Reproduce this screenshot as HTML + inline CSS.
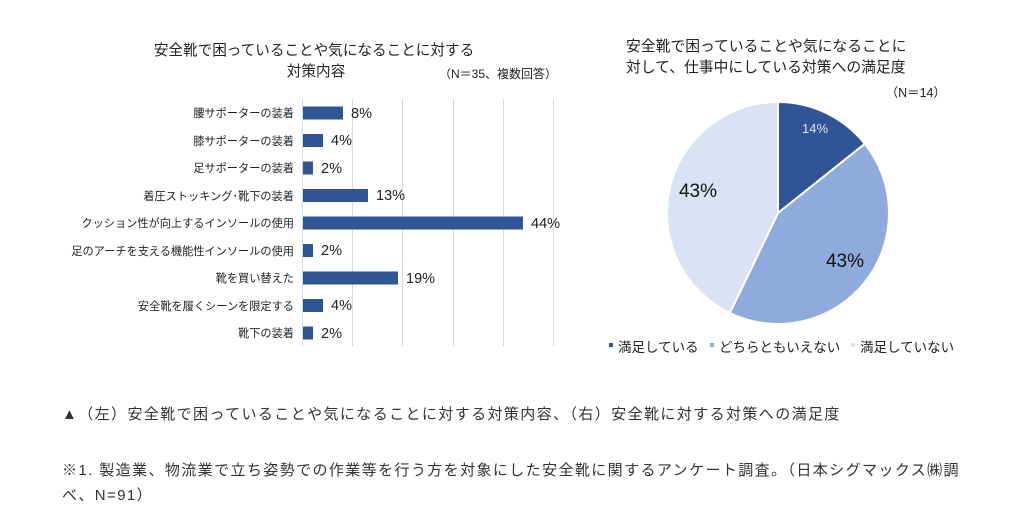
<!DOCTYPE html>
<html><head><meta charset="utf-8"><style>
body{margin:0;background:#fff;width:1024px;height:524px;overflow:hidden;font-family:"Liberation Sans","Noto Sans CJK JP",sans-serif;color:#333}
.t{position:absolute;white-space:nowrap;font-size:15px;letter-spacing:1.4px}
</style></head><body>
<svg width="1024" height="524" style="position:absolute;left:0;top:0" font-family="Liberation Sans, Noto Sans CJK JP, sans-serif">
<text x="314" y="55" font-size="14.6" text-anchor="middle" fill="#222">安全靴で困っていることや気になることに対する</text>
<text x="316" y="76" font-size="14.6" text-anchor="middle" fill="#222">対策内容</text>
<text x="557" y="78" font-size="12" text-anchor="end" fill="#222">（N＝35、複数回答）</text>
<g stroke="#d9d9d9" stroke-width="1">
<line x1="352.5" y1="99" x2="352.5" y2="346"/><line x1="402.5" y1="99" x2="402.5" y2="346"/><line x1="453.5" y1="99" x2="453.5" y2="346"/><line x1="503.5" y1="99" x2="503.5" y2="346"/><line x1="553.5" y1="99" x2="553.5" y2="346"/>
<line x1="302.5" y1="99" x2="302.5" y2="346"/></g>
<g fill="#2f5597">
<rect x="303" y="106.5" width="40" height="13"/>
<rect x="303" y="134" width="20" height="13"/>
<rect x="303" y="161.5" width="10" height="13"/>
<rect x="303" y="189" width="65" height="13"/>
<rect x="303" y="216.5" width="220" height="13"/>
<rect x="303" y="244" width="10" height="13"/>
<rect x="303" y="271.5" width="95" height="13"/>
<rect x="303" y="299" width="20" height="13"/>
<rect x="303" y="326.5" width="10" height="13"/>
</g>
<g font-size="11.2" text-anchor="end" fill="#222">
<text x="294" y="117">腰サポーターの装着</text>
<text x="294" y="145">膝サポーターの装着</text>
<text x="294" y="172">足サポーターの装着</text>
<text x="294" y="200">着圧ストッキング･靴下の装着</text>
<text x="294" y="227">クッション性が向上するインソールの使用</text>
<text x="294" y="255">足のアーチを支える機能性インソールの使用</text>
<text x="294" y="282">靴を買い替えた</text>
<text x="294" y="310">安全靴を履くシーンを限定する</text>
<text x="294" y="337">靴下の装着</text>
</g>
<g font-size="14.5" fill="#222">
<text x="351" y="118">8%</text>
<text x="331" y="145">4%</text>
<text x="321" y="173">2%</text>
<text x="376" y="200">13%</text>
<text x="531" y="228">44%</text>
<text x="321" y="255">2%</text>
<text x="406" y="283">19%</text>
<text x="331" y="310">4%</text>
<text x="321" y="338">2%</text>
</g>
<text x="626" y="51" font-size="14.8" fill="#222">安全靴で困っていることや気になることに</text>
<text x="626" y="72" font-size="14.8" fill="#222">対して、仕事中にしている対策への満足度</text>
<text x="946" y="97" font-size="12.5" text-anchor="end" fill="#222">（N＝14）</text>
<g stroke="#fff" stroke-width="2">
<path d="M778,213 L778,102 A111,111 0 0 1 864.8,143.8 Z" fill="#2f5597"/>
<path d="M778,213 L864.8,143.8 A111,111 0 0 1 729.8,313 Z" fill="#8faadc"/>
<path d="M778,213 L729.8,313 A111,111 0 0 1 778,102 Z" fill="#dae3f3"/>
</g>
<text x="815" y="133" font-size="13" text-anchor="middle" fill="#dae3f3">14%</text>
<text x="845" y="267" font-size="19" text-anchor="middle" fill="#111">43%</text>
<text x="698" y="197" font-size="19" text-anchor="middle" fill="#111">43%</text>
<rect x="609" y="343" width="4" height="4" fill="#2f5597"/>
<text x="618" y="352" font-size="13.5" fill="#222">満足している</text>
<rect x="710" y="343" width="4" height="4" fill="#8faadc"/>
<text x="719" y="352" font-size="13.5" fill="#222">どちらともいえない</text>
<rect x="851" y="343" width="4" height="4" fill="#dae3f3"/>
<text x="860" y="352" font-size="13.5" fill="#222">満足していない</text>
</svg>
<div class="t" style="left:62px;top:403px">▲（左）安全靴で困っていることや気になることに対する対策内容、（右）安全靴に対する対策への満足度</div>
<div class="t" style="left:62px;top:459px">※1. 製造業、物流業で立ち姿勢での作業等を行う方を対象にした安全靴に関するアンケート調査。（日本シグマックス㈱調</div>
<div class="t" style="left:62px;top:484px">べ、N=91）</div>
</body></html>
